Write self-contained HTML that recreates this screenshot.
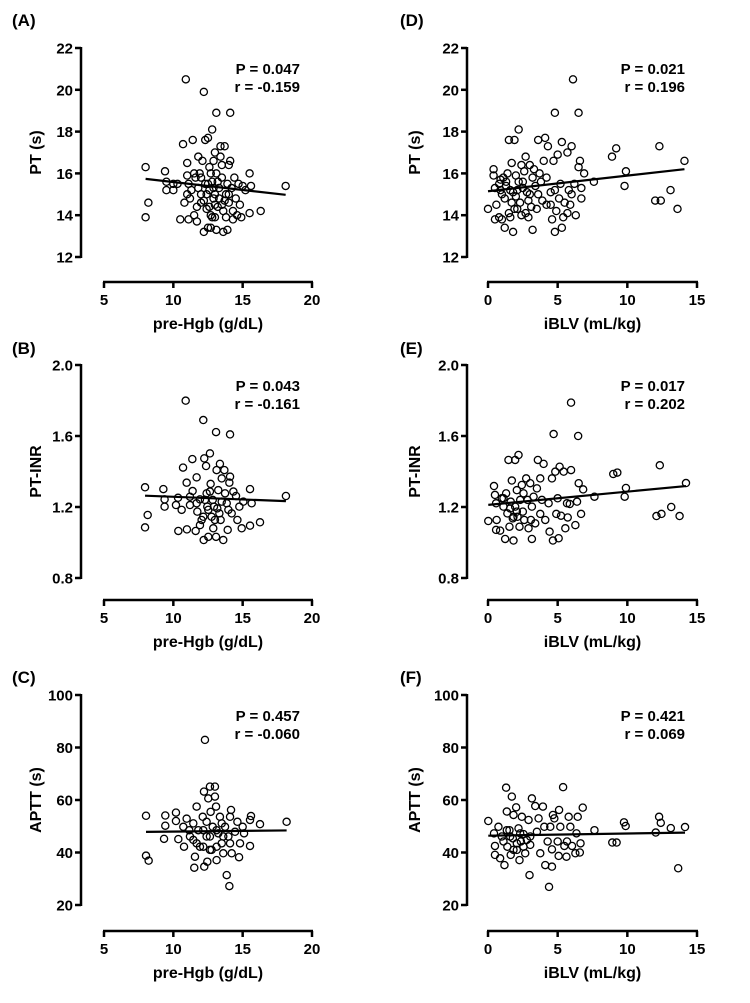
<!DOCTYPE html>
<html><head><meta charset="utf-8"><style>
html,body{margin:0;padding:0;background:#fff;}
svg{display:block;font-family:"Liberation Sans",Arial,sans-serif;font-weight:bold;}
</style></head><body>
<svg id="chart" width="750" height="1003" viewBox="0 0 750 1003" xmlns="http://www.w3.org/2000/svg"></svg>
<script>
const hgbA=[8.0,8.0,8.2,9.4,9.5,9.5,10.0,10.0,10.3,10.5,10.7,10.8,10.9,11.0,11.0,11.1,11.1,11.2,11.3,11.4,11.5,11.6,11.7,11.7,11.8,11.9,12.0,12.0,12.1,12.2,12.2,12.3,12.3,12.4,12.5,12.5,12.6,12.6,12.7,12.7,12.8,12.8,12.9,13.0,13.0,13.0,13.1,13.1,13.1,13.2,13.3,13.4,13.4,13.5,13.5,13.6,13.7,13.8,13.8,13.9,14.0,14.0,14.1,14.1,14.2,14.3,14.4,14.5,14.6,14.7,14.8,14.9,15.0,15.2,15.5,15.5,15.6,16.3,18.1,12.0,12.4,12.9,13.3,12.7,13.2,11.8,12.2,13.6,14.0,12.5,13.0,12.8,11.5,13.9,12.6,13.5,14.3,11.0,12.9,13.7];
const ptA=[16.3,13.9,14.6,16.1,15.6,15.2,15.2,15.5,15.5,13.8,17.4,14.6,20.5,16.5,15.9,13.8,15.5,14.8,15.2,17.6,14.0,15.8,14.4,13.7,16.8,16.0,15.0,14.6,16.6,19.9,13.2,17.6,15.5,14.3,17.7,13.4,16.3,15.2,14.0,13.4,18.1,15.6,14.8,17.0,15.0,13.9,18.9,16.0,13.3,14.4,15.3,17.3,16.8,15.8,14.5,13.2,17.3,15.0,13.9,13.3,16.4,14.6,18.9,16.6,15.3,14.2,15.8,14.8,14.0,15.5,14.5,13.9,15.4,15.2,16.0,14.1,15.4,14.2,15.4,15.8,15.0,15.3,14.8,16.0,15.6,15.3,14.7,14.2,15.0,15.5,14.5,13.9,16.0,15.5,14.4,16.4,13.8,15.0,16.6,14.7];
const hgbB=[7.96,8.15,7.96,9.28,9.37,9.37,10.34,10.19,10.36,10.7,10.89,10.96,10.98,11.2,11.37,11.39,11.61,11.68,11.73,11.92,12.04,12.16,12.19,12.23,12.36,12.4,12.45,12.52,12.64,12.69,12.76,12.84,12.88,13.08,13.08,13.12,13.17,13.24,13.36,13.41,13.49,13.6,13.68,13.73,13.85,13.92,14.04,14.09,14.21,14.33,14.52,14.62,14.76,14.93,15.05,15.53,15.53,15.65,16.25,18.12,12.28,12.52,12.93,13.32,11.68,11.2,13.97,12.64,12.16,13.49,13.0,10.6,14.09,11.92];
const inrB=[1.311,1.155,1.085,1.301,1.243,1.202,1.252,1.211,1.065,1.422,1.799,1.337,1.074,1.211,1.470,1.290,1.065,1.367,1.174,1.243,1.127,1.690,1.014,1.474,1.431,1.277,1.202,1.032,1.502,1.330,1.145,1.240,1.080,1.622,1.032,1.408,1.192,1.295,1.443,1.127,1.361,1.014,1.408,1.277,1.221,1.071,1.337,1.609,1.164,1.287,1.262,1.127,1.202,1.080,1.230,1.301,1.095,1.221,1.114,1.262,1.240,1.184,1.202,1.164,1.221,1.258,1.184,1.287,1.145,1.230,1.127,1.184,1.371,1.098];
const hgbC=[8.03,8.03,8.22,9.42,9.42,9.33,10.19,10.19,10.36,10.77,10.96,11.15,11.44,11.56,11.68,11.51,11.8,11.92,12.12,12.21,12.23,12.28,12.4,12.45,12.52,12.64,12.69,12.76,12.84,13.0,13.0,13.08,13.12,13.24,13.36,13.49,13.6,13.73,13.85,13.97,14.04,14.09,14.16,14.21,14.45,14.62,14.74,14.81,15.0,15.1,15.53,15.6,15.53,16.25,18.17,11.2,11.68,12.16,12.64,13.12,13.6,12.16,13.12,11.44,12.64,13.49,14.09,10.72,12.4];
const apttC=[54.0,38.8,36.9,54.1,50.2,45.2,55.2,52.0,45.1,42.2,52.9,48.5,44.8,38.4,57.5,34.2,48.5,42.2,53.6,63.2,34.6,82.9,46.1,36.5,60.6,65.1,55.5,41.0,49.8,65.1,61.3,57.5,37.1,47.3,53.6,43.5,39.7,49.8,31.4,46.1,27.2,53.6,56.2,39.7,47.9,51.7,38.2,43.5,49.8,47.3,42.5,53.9,52.4,50.8,51.7,46.1,43.5,48.5,46.1,42.2,46.1,42.2,48.5,51.1,41.0,51.1,43.5,49.8,51.7];
const iblvD=[0.0,0.4,0.4,0.5,0.5,0.6,0.8,0.8,0.9,1.0,1.0,1.1,1.2,1.2,1.3,1.4,1.5,1.5,1.6,1.6,1.7,1.7,1.8,1.9,1.8,2.0,2.0,2.1,2.2,2.2,2.3,2.4,2.4,2.5,2.6,2.7,2.7,2.8,2.9,3.0,3.0,3.1,3.2,3.3,3.4,3.5,3.6,3.7,3.8,3.9,4.0,4.1,4.2,4.2,4.3,4.5,4.5,4.6,4.7,4.8,4.8,4.8,4.9,5.0,5.1,5.2,5.3,5.3,5.4,5.5,5.7,5.7,5.8,5.9,6.0,6.0,6.1,6.2,6.3,6.5,6.5,6.6,6.7,6.7,6.9,7.6,8.9,9.2,9.8,9.9,12.0,12.3,12.4,13.1,13.6,14.1,1.3,2.5,3.2,1.9,2.9,0.9,3.6,2.1];
const ptD=[14.3,16.2,15.9,15.3,13.8,14.5,15.5,13.9,15.7,15.0,13.8,15.8,14.8,13.4,15.4,16.0,17.6,14.1,15.2,13.9,16.5,14.6,15.1,17.6,13.2,15.9,14.9,14.3,18.1,15.6,14.6,16.4,14.0,15.3,16.1,16.8,14.1,15.1,13.9,16.4,15.0,14.4,13.3,16.2,15.4,14.3,17.6,16.0,15.6,14.7,16.6,17.7,15.8,14.5,17.3,15.1,14.5,13.8,16.6,18.9,15.2,13.2,14.2,16.9,14.8,15.5,17.5,13.4,13.9,14.6,17.0,14.1,15.2,14.5,15.0,17.3,20.5,15.5,14.0,18.9,16.3,16.6,15.3,14.8,16.0,15.6,16.8,17.2,15.4,16.1,14.7,17.3,14.7,15.2,14.3,16.6,15.6,15.6,15.8,14.3,14.7,15.2,15.0,15.2];
const iblvE=[0.02,0.43,0.5,0.58,0.62,0.58,0.87,0.99,1.11,1.23,1.3,1.39,1.47,1.54,1.63,1.71,1.78,1.83,1.95,1.95,2.07,2.12,2.19,2.26,2.31,2.43,2.5,2.6,2.74,2.84,2.91,3.03,3.08,3.15,3.27,3.39,3.51,3.58,3.75,3.75,3.87,3.99,4.11,4.35,4.42,4.59,4.66,4.71,4.83,4.9,5.0,5.07,5.14,5.24,5.43,5.55,5.67,5.72,5.87,5.96,5.96,6.27,6.39,6.47,6.51,6.68,6.83,7.64,8.99,9.28,9.81,9.9,12.09,12.45,12.33,13.15,13.75,14.21,1.59,2.07,1.11,2.55,1.83,3.15];
const inrE=[1.121,1.318,1.268,1.221,1.127,1.071,1.067,1.249,1.202,1.020,1.277,1.164,1.465,1.089,1.230,1.349,1.136,1.011,1.465,1.202,1.295,1.145,1.493,1.089,1.240,1.324,1.174,1.127,1.361,1.240,1.080,1.334,1.127,1.020,1.258,1.108,1.305,1.465,1.161,1.361,1.240,1.443,1.127,1.221,1.061,1.361,1.011,1.611,1.399,1.161,1.249,1.024,1.427,1.151,1.399,1.080,1.221,1.141,1.217,1.788,1.408,1.098,1.230,1.600,1.334,1.161,1.299,1.258,1.386,1.394,1.258,1.307,1.149,1.161,1.435,1.200,1.149,1.335,1.192,1.174,1.249,1.277,1.145,1.202];
const iblvF=[0.02,0.43,0.5,0.5,0.75,0.87,0.99,1.18,1.3,1.35,1.39,1.54,1.63,1.71,1.78,1.83,2.02,2.07,2.19,2.26,2.36,2.43,2.55,2.67,2.91,2.98,3.03,3.15,3.39,3.51,3.63,3.75,3.94,4.04,4.11,4.28,4.38,4.47,4.59,4.59,4.66,4.76,5.0,5.07,5.1,5.19,5.39,5.48,5.63,5.67,5.79,5.91,6.03,6.27,6.35,6.44,6.59,6.64,6.8,7.64,8.92,9.23,9.76,9.88,12.04,12.28,12.4,13.12,13.65,14.14,1.11,1.59,2.07,2.55,2.31,3.03,1.83,1.35,2.79];
const apttF=[52.0,47.3,42.5,39.1,49.8,37.8,46.1,35.2,64.7,55.6,42.2,48.5,39.1,61.3,45.4,54.3,57.2,41.0,49.2,37.1,44.2,53.6,47.0,39.7,52.4,31.4,42.9,60.6,57.7,47.9,53.0,39.7,57.5,49.8,35.2,44.2,26.9,49.8,41.2,34.6,54.3,53.0,44.2,38.7,56.2,49.8,64.9,42.5,38.4,44.2,53.6,49.8,42.5,39.7,47.3,53.6,40.0,43.5,57.1,48.5,43.8,43.8,51.5,50.1,47.6,53.6,51.3,49.3,34.0,49.7,44.2,46.1,43.5,42.2,47.3,46.1,41.0,48.5,44.8];
const hgbTicks=[5,10,15,20];
const iblvTicks=[0,5,10,15];
const ptTicks=[12,14,16,18,20,22];
const inrTicks=[0.8,1.2,1.6,2.0];
const apttTicks=[20,40,60,80,100];
const panelLabels=["(A)","(B)","(C)","(D)","(E)","(F)"];
const pValues=["P = 0.047","P = 0.043","P = 0.457","P = 0.021","P = 0.017","P = 0.421"];
const rValues=["r = -0.159","r = -0.161","r = -0.060","r = 0.196","r = 0.202","r = 0.069"];

const NS="http://www.w3.org/2000/svg";
const svg=document.getElementById('chart');
function mk(tag,attrs,parent){const e=document.createElementNS(NS,tag);for(const k in attrs)e.setAttribute(k,attrs[k]);(parent||svg).appendChild(e);return e;}

const panels=[
 {xs:hgbA,ys:ptA,xt:hgbTicks,yt:ptTicks,xl:"pre-Hgb (g/dL)",yl:"PT (s)",col:0,row:0,dec:0},
 {xs:hgbB,ys:inrB,xt:hgbTicks,yt:inrTicks,xl:"pre-Hgb (g/dL)",yl:"PT-INR",col:0,row:1,dec:1},
 {xs:hgbC,ys:apttC,xt:hgbTicks,yt:apttTicks,xl:"pre-Hgb (g/dL)",yl:"APTT (s)",col:0,row:2,dec:0},
 {xs:iblvD,ys:ptD,xt:iblvTicks,yt:ptTicks,xl:"iBLV (mL/kg)",yl:"PT (s)",col:1,row:0,dec:0},
 {xs:iblvE,ys:inrE,xt:iblvTicks,yt:inrTicks,xl:"iBLV (mL/kg)",yl:"PT-INR",col:1,row:1,dec:1},
 {xs:iblvF,ys:apttF,xt:iblvTicks,yt:apttTicks,xl:"iBLV (mL/kg)",yl:"APTT (s)",col:1,row:2,dec:0}
];
const colGeo=[{yAxisX:81,x0:104,x1:312,lab:12,title:35,pRight:300},{yAxisX:467,x0:488,x1:697,lab:400,title:414,pRight:685}];
const rowGeo=[{top:48,bot:257,xa:282,lab:26},{top:365,bot:578,xa:600,lab:354},{top:695,bot:905,xa:931,lab:683}];

panels.forEach((p,i)=>{
 const g=colGeo[p.col];const r=rowGeo[p.row];
 const yTop=r.top,yBot=r.bot,xAxY=r.xa;
 const xmin=p.xt[0],xmax=p.xt[p.xt.length-1],ymin=p.yt[0],ymax=p.yt[p.yt.length-1];
 const sx=v=>g.x0+(v-xmin)/(xmax-xmin)*(g.x1-g.x0);
 const sy=v=>yBot-(v-ymin)/(ymax-ymin)*(yBot-yTop);
 const grp=mk('g',{});
 
 
 const pl=mk('text',{x:g.lab,y:r.lab,'font-size':17},grp);pl.textContent=panelLabels[i];
 
 
 const ya=mk('line',{x1:g.yAxisX,y1:yTop-1,x2:g.yAxisX,y2:yBot+1,stroke:'#000','stroke-width':2.5},grp);
 
 
 p.yt.forEach(t=>{
  mk('line',{x1:g.yAxisX-6,y1:sy(t),x2:g.yAxisX,y2:sy(t),stroke:'#000','stroke-width':2.5},grp);
  const tl=mk('text',{x:g.yAxisX-8,y:sy(t)+5.5,'font-size':15,'text-anchor':'end'},grp);
  tl.textContent=p.dec?t.toFixed(1):String(t);
  
  
 });
 const xa=mk('line',{x1:g.x0-1,y1:xAxY,x2:g.x1+1,y2:xAxY,stroke:'#000','stroke-width':2.5},grp);
 
 
 p.xt.forEach(t=>{
  mk('line',{x1:sx(t),y1:xAxY,x2:sx(t),y2:xAxY+6,stroke:'#000','stroke-width':2.5},grp);
  const tl=mk('text',{x:sx(t),y:xAxY+23,'font-size':15,'text-anchor':'middle'},grp);
  tl.textContent=String(t);
  
  
 });
 const xt=mk('text',{x:(g.x0+g.x1)/2,y:xAxY+47,'font-size':16,'text-anchor':'middle'},grp);
 xt.textContent=p.xl;
 
 
 const cy=(yTop+yBot)/2;
 const yt=mk('text',{x:0,y:0,'font-size':16,'text-anchor':'middle',transform:`translate(${g.title+6},${cy}) rotate(-90)`},grp);
 yt.textContent=p.yl;
 
 
 const n=Math.min(p.xs.length,p.ys.length);
 for(let k=0;k<n;k++){
  const c=mk('circle',{cx:sx(p.xs[k]),cy:sy(p.ys[k]),r:3.6,fill:'none',stroke:'#000','stroke-width':1.3},grp);
  
  
 }
 let mx=0,my=0;for(let k=0;k<n;k++){mx+=p.xs[k];my+=p.ys[k];}mx/=n;my/=n;
 let sxy=0,sxx=0;for(let k=0;k<n;k++){sxy+=(p.xs[k]-mx)*(p.ys[k]-my);sxx+=(p.xs[k]-mx)**2;}
 const b=sxy/sxx,a=my-b*mx;
 const lo=Math.min(...p.xs.slice(0,n)),hi=Math.max(...p.xs.slice(0,n));
 const rl=mk('line',{x1:sx(lo),y1:sy(a+b*lo),x2:sx(hi),y2:sy(a+b*hi),stroke:'#000','stroke-width':2.2},grp);
 
 
 const pt=mk('text',{x:g.pRight,y:yTop+26,'font-size':15,'text-anchor':'end'},grp);pt.textContent=pValues[i];
 
 
 const rt=mk('text',{x:g.pRight,y:yTop+44,'font-size':15,'text-anchor':'end'},grp);rt.textContent=rValues[i];
 
 
});
</script>
</body></html>
